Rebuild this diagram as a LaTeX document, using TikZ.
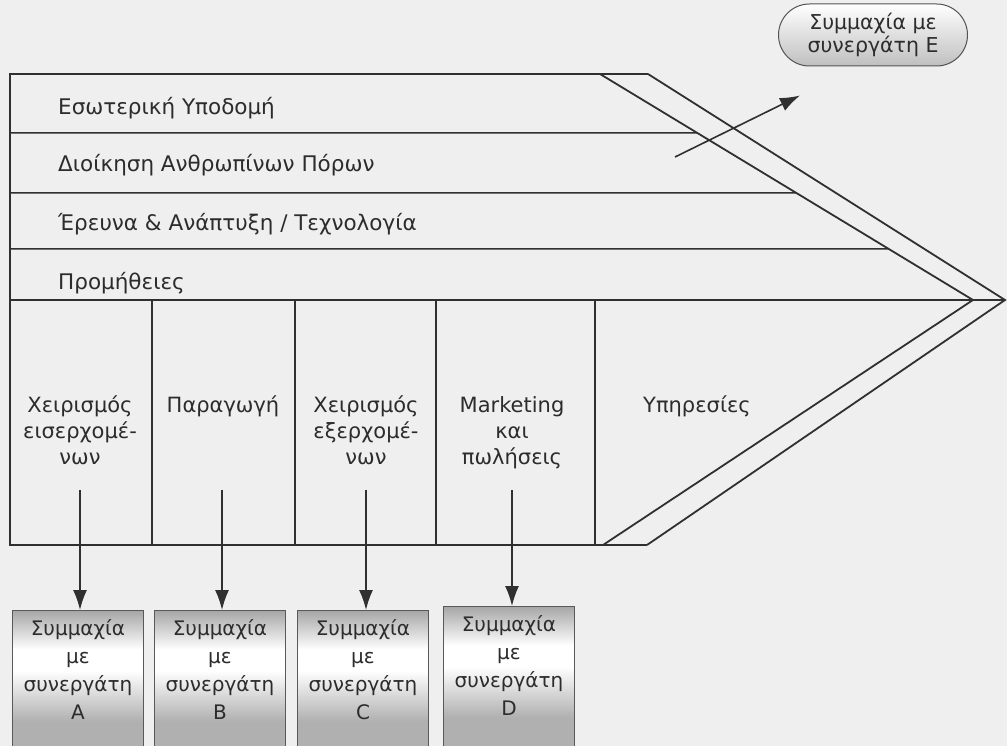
\documentclass[tikz,border=0pt]{standalone}
\usepackage{fontspec}
\setmainfont{DejaVu Sans}
\usetikzlibrary{arrows.meta,shapes.misc,calc}
\definecolor{bg}{HTML}{EFEFEF}
\definecolor{ink}{HTML}{303030}
\definecolor{txt}{HTML}{2C2C2C}
\definecolor{boxgray}{HTML}{B0B0B0}
\definecolor{boxtop}{HTML}{A6A6A6}
% vertical shading for the partner boxes: grey top, pale band, grey bottom
\pgfdeclareverticalshading{allyshade}{100bp}{color(0bp)=(boxgray); color(38bp)=(boxgray); color(55bp)=(white); color(62bp)=(white); color(75bp)=(boxtop); color(100bp)=(boxtop)}
\begin{document}
\begin{tikzpicture}[x=1pt,y=-1pt,
  frame/.style={draw=ink,line width=1.8pt},
  rule/.style={draw=ink,line width=1.5pt},
  band/.style={anchor=base west,text=txt,inner sep=0pt,font=\fontsize{21.5}{24}\selectfont},
  col/.style={align=center,text=txt,inner sep=0pt,anchor=north,font=\fontsize{21}{26}\selectfont},
  ally/.style={draw=gray!70!black,line width=0.9pt,shading=allyshade,minimum width=131pt,minimum height=150pt,anchor=north,inner sep=0pt},
  allytext/.style={align=center,text=txt,inner sep=0pt,anchor=north,font=\fontsize{20}{28}\selectfont},
  link/.style={draw=ink,line width=1.6pt,-{Latex[length=20pt,width=14pt]}}
]
\useasboundingbox (0,0) rectangle (1007,746);
\fill[bg] (0,0) rectangle (1007,746);
\clip (0,0) rectangle (1007,746);

% outline of the chain
\coordinate (TL) at (10,74);
\coordinate (BL) at (10,545);
\coordinate (Ti) at (600,74);
\coordinate (To) at (648,74);
\coordinate (Pi) at (973,300);
\coordinate (Po) at (1005,300);
\coordinate (Bi) at (603,545);
\coordinate (Bo) at (647,545);
\draw[frame] (Ti) -- (TL) -- (BL) -- (Bo);
\draw[frame] (To) -- (Ti);
\draw[frame] (To) -- (Po) -- (Bo);
\draw[frame] (Ti) -- (Pi) -- (Bi);

% support activity bands
\foreach \y in {133,193,249}{
  \draw[rule] (10,\y) -- ($(Ti)!{(\y-74)/226}!(Pi)$);
}
\draw[rule] (10,300) -- (Pi) -- (Po);

% primary activity columns
\foreach \x in {152,295,436,595}{
  \draw[rule] (\x,300) -- (\x,545);
}

\node[band] (s1) at (58,115) {Εσωτερική Υποδομή};
\node[band] (s2) at (58,172) {Διοίκηση Ανθρωπίνων Πόρων};
\node[band] (s3) at (58,231) {Έρευνα \& Ανάπτυξη / Τεχνολογία};
\node[band] (s4) at (58,289) {Προμήθειες};

\node[col] (c1) at (80,396) {Χειρισμός\\εισερχομέ-\\νων};
\node[col] (c2) at (223,396) {Παραγωγή};
\node[col] (c3) at (366,396) {Χειρισμός\\εξερχομέ-\\νων};
\node[col] (c4) at (512,396) {Marketing\\και\\πωλήσεις};
\node[col,anchor=north west] (c5) at (643,396) {Υπηρεσίες};

% partner boxes
\node[ally] (bA) at (78,610) {};
\node[ally] (bB) at (220,610) {};
\node[ally] (bC) at (363,610) {};
\node[ally] (bD) at (509,606) {};
\foreach \b/\l in {bA/A,bB/B,bC/C,bD/D}{
  \node[allytext] at ($(\b.north)+(0,9)$) {Συμμαχία\\με\\συνεργάτη\\\l};
}

\coordinate (aA) at (80,490);
\coordinate (aB) at (222,490);
\coordinate (aC) at (366,490);
\coordinate (aD) at (512,490);
\draw[link] (aA) -- (aA |- bA.north);
\draw[link] (aB) -- (aB |- bB.north);
\draw[link] (aC) -- (aC |- bC.north);
\draw[link] (aD) -- (aD |- bD.north);

% partner for the support activities
\node[draw=gray!65!black,line width=1pt,rounded rectangle,top color=white,bottom color=gray!50,
      minimum width=193pt,minimum height=62pt,inner sep=2pt,align=center,text=txt,
      font=\fontsize{20.5}{23}\selectfont] (bE) at (873,35) {Συμμαχία με\\συνεργάτη Ε};
\coordinate (aE) at (675,157);
\draw[link] (aE) -- ($(bE.south)+(-73,29)$);
\end{tikzpicture}
\end{document}
